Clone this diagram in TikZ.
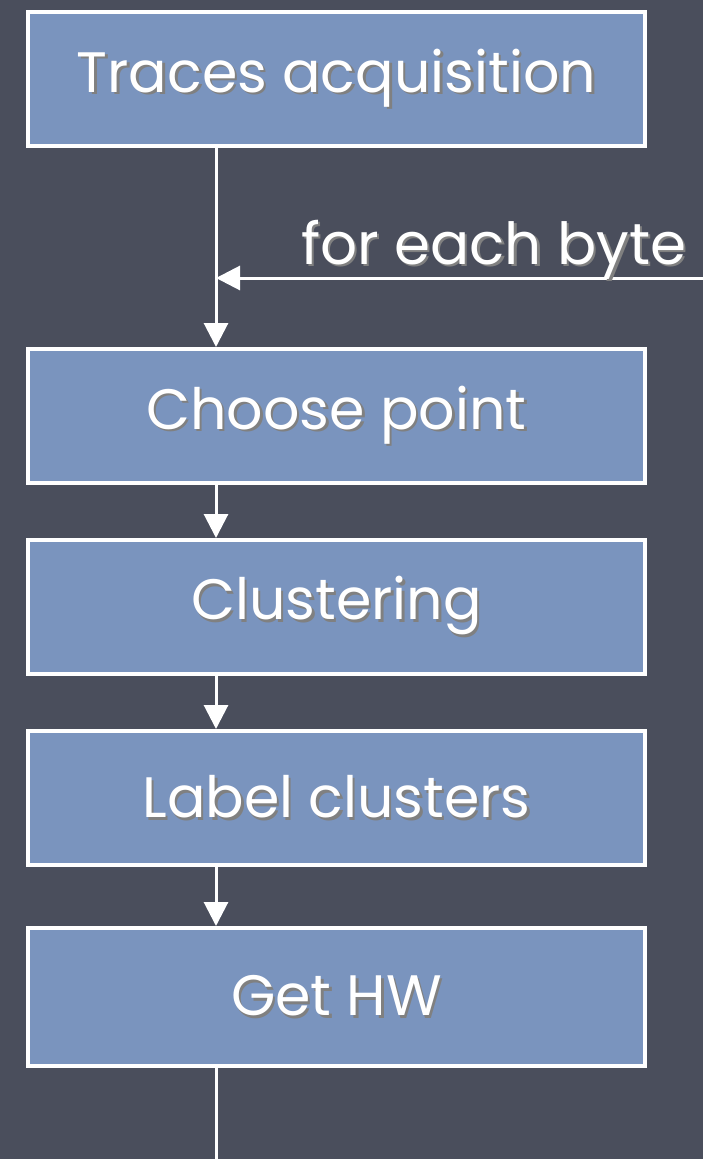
\documentclass[tikz,border=0pt]{standalone}
\usepackage{fontspec}
\setmainfont{Poppins}
\usetikzlibrary{positioning,arrows.meta}

\definecolor{slate}{RGB}{74,78,92}
\definecolor{steel}{RGB}{122,148,190}

% white text with a soft dark shadow behind it
\newcommand\shadowed[1]{\raisebox{-4pt}{\makebox[0pt][l]{\raisebox{-2.5pt}{\hspace{2.5pt}\textcolor{black!50}{#1}}}#1}}

\begin{document}
\begin{tikzpicture}[x=1pt,y=1pt,
    stepbox/.style={draw=white, line width=4pt, fill=steel,
        minimum width=617pt, minimum height=134pt,
        text=white, font=\fontsize{57}{66}\selectfont},
    flow/.style={draw=white, line width=3pt, -{Triangle[width=24pt,length=24pt]}},
    wire/.style={draw=white, line width=3pt},
    node distance=53pt]
  \fill[slate] (0,0) rectangle (703,-1159);
  \useasboundingbox (0,0) rectangle (703,-1159);

  \node[stepbox] (traces) at (336.5,-79) {\shadowed{Traces acquisition}};
  \node[stepbox, below=199pt of traces] (choose) {\shadowed{Choose point}};
  \node[stepbox, below=of choose] (clustering) {\shadowed{Clustering}};
  \node[stepbox, below=of clustering] (labels) {\shadowed{Label clusters}};
  \node[stepbox, below=59pt of labels, minimum height=138pt] (hw) {\shadowed{Get HW}};

  \coordinate (spine) at (216,0);
  \coordinate (byte) at (703,-278);
  \coordinate (out) at (216,-1159);

  \draw[flow] (traces.south -| spine) -- (choose.north -| spine);
  \draw[flow] (byte) -- (byte -| spine);
  \node[anchor=base east, text=white, font=\fontsize{58}{66}\selectfont] (loop)
    at (690,-260) {\shadowed{for each byte}};
  \draw[flow] (choose.south -| spine) -- (clustering.north -| spine);
  \draw[flow] (clustering.south -| spine) -- (labels.north -| spine);
  \draw[flow] (labels.south -| spine) -- (hw.north -| spine);
  \draw[wire] (hw.south -| spine) -- (out);
\end{tikzpicture}
\end{document}
